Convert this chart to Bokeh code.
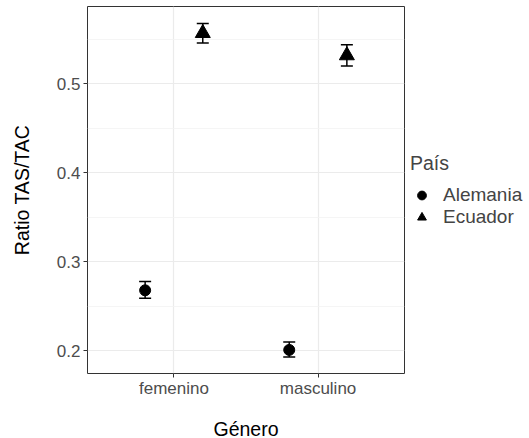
from bokeh.plotting import figure
from bokeh.models import (ColumnDataSource, FactorRange, Range1d, FixedTicker,
                          Whisker, TeeHead, Legend, LegendItem)
from bokeh.transform import dodge
from bokeh.embed import file_html
from bokeh.resources import INLINE

# Ratio TAS/TAC by gender and country: mean with error bars
generos = ["femenino", "masculino"]
alemania_media = [0.268, 0.201]
alemania_inf = [0.259, 0.193]
alemania_sup = [0.278, 0.210]
ecuador_media = [0.557, 0.532]
ecuador_inf = [0.546, 0.520]
ecuador_sup = [0.568, 0.544]
y_ticks = [0.2, 0.3, 0.4, 0.5]
y_minor = [0.25, 0.35, 0.45, 0.55]

FONT = "Liberation Sans"

src_ale = ColumnDataSource(dict(genero=generos, media=alemania_media,
                                inf=alemania_inf, sup=alemania_sup))
src_ecu = ColumnDataSource(dict(genero=generos, media=ecuador_media,
                                inf=ecuador_inf, sup=ecuador_sup))

p = figure(x_range=FactorRange(factors=generos, range_padding=0.1),
           y_range=Range1d(0.1745, 0.587),
           frame_width=317, frame_height=367,
           min_border_left=87, min_border_top=6, min_border_bottom=65,
           min_border_right=4,
           output_backend="svg", toolbar_location=None)

p.background_fill_color = "white"
p.border_fill_color = "white"
p.outline_line_color = "#333333"
p.outline_line_width = 1

# grid
p.xgrid.grid_line_color = "#EBEBEB"
p.xgrid.grid_line_width = 1.2
p.ygrid.grid_line_color = "#EBEBEB"
p.ygrid.grid_line_width = 1.2
p.ygrid.minor_grid_line_color = "#F2F2F2"
p.ygrid.minor_grid_line_width = 0.8

p.yaxis.ticker = FixedTicker(ticks=y_ticks, minor_ticks=y_minor)

for ax in (p.xaxis[0], p.yaxis[0]):
    ax.axis_line_color = None
    ax.major_tick_line_color = "#333333"
    ax.major_tick_out = 4
    ax.major_tick_in = 0
    ax.minor_tick_line_color = None
    ax.major_label_text_font = FONT
    ax.major_label_text_font_size = "17px"
    ax.major_label_text_color = "#4D4D4D"
    ax.axis_label_text_font = FONT
    ax.axis_label_text_font_size = "19.5px"
    ax.axis_label_text_font_style = "normal"
    ax.axis_label_text_color = "black"

p.xaxis.axis_label = "Género"
p.yaxis.axis_label = "Ratio TAS/TAC"
p.xaxis.major_label_standoff = 1
p.yaxis.major_label_standoff = 3
p.xaxis.axis_label_standoff = 17
p.yaxis.axis_label_standoff = 21

x_ale = dodge("genero", -0.2, range=p.x_range)
x_ecu = dodge("genero", 0.2, range=p.x_range)

for src, xs in ((src_ale, x_ale), (src_ecu, x_ecu)):
    w = Whisker(source=src, base=xs, upper="sup", lower="inf",
                line_color="black", line_width=1.5,
                upper_head=TeeHead(size=12, line_color="black", line_width=1.5),
                lower_head=TeeHead(size=12, line_color="black", line_width=1.5))
    p.add_layout(w)

r_ale = p.scatter(x=x_ale, y="media", source=src_ale, marker="circle",
                  size=11, color="black")
r_ecu = p.scatter(x=x_ecu, y="media", source=src_ecu, marker="triangle",
                  size=15, color="black")

legend = Legend(items=[LegendItem(label="Alemania", renderers=[r_ale]),
                       LegendItem(label="Ecuador", renderers=[r_ecu])],
                title="País", location="left", orientation="vertical",
                border_line_color=None, background_fill_alpha=0,
                title_text_font=FONT, title_text_font_size="19.5px",
                title_text_font_style="normal", title_standoff=9,
                label_text_font=FONT, label_text_font_size="19px",
                glyph_width=23, glyph_height=22, label_standoff=10,
                label_height=22, spacing=0, padding=0, margin=6)
p.add_layout(legend, "right")

open("out.html", "w").write(file_html(p, INLINE))
